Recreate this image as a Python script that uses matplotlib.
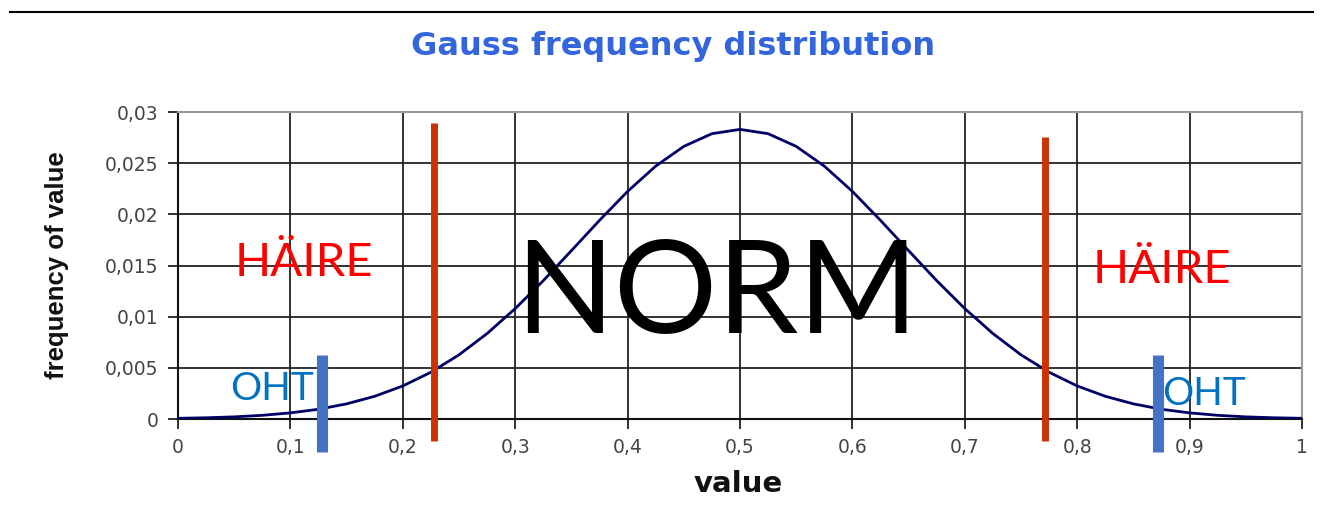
import matplotlib.pyplot as plt
from matplotlib.lines import Line2D

# curve
x_vals = [0.0, 0.025, 0.05, 0.075, 0.1, 0.125, 0.15, 0.175, 0.2, 0.225, 0.25,
          0.275, 0.3, 0.325, 0.35, 0.375, 0.4, 0.425, 0.45, 0.475, 0.5,
          0.525, 0.55, 0.575, 0.6, 0.625, 0.65, 0.675, 0.7, 0.725, 0.75,
          0.775, 0.8, 0.825, 0.85, 0.875, 0.9, 0.925, 0.95, 0.975, 1.0]
half = [0.00007, 0.00012, 0.00021, 0.00036, 0.0006, 0.00095, 0.00148, 0.00222,
        0.00323, 0.00457, 0.00627, 0.00835, 0.01079, 0.01352, 0.01645, 0.01941,
        0.02224, 0.02471, 0.02664, 0.02788]
y_vals = half + [0.0283] + half[::-1]

x_ticks = [0, 0.1, 0.2, 0.3, 0.4, 0.5, 0.6, 0.7, 0.8, 0.9, 1.0]
x_labels = ['0', '0,1', '0,2', '0,3', '0,4', '0,5', '0,6', '0,7', '0,8', '0,9', '1']
y_ticks = [0, 0.005, 0.01, 0.015, 0.02, 0.025, 0.03]
y_labels = ['0', '0,005', '0,01', '0,015', '0,02', '0,025', '0,03']

# limit markers: (x, ymin, ymax)
red_lines = [(0.228, -0.0021, 0.0289), (0.771, -0.0021, 0.0276)]
blue_lines = [(0.128, -0.0032, 0.0063), (0.872, -0.0032, 0.0063)]

fig = plt.figure(figsize=(13.27, 5.14), dpi=100)
ax = fig.add_axes([0.1341, 0.1848, 0.8471, 0.5973])

ax.set_xlim(0, 1)
ax.set_ylim(0, 0.03)
ax.set_xticks(x_ticks)
ax.set_xticklabels(x_labels)
ax.set_yticks(y_ticks)
ax.set_yticklabels(y_labels)
ax.grid(True, color='#222222', linewidth=1.3)
ax.set_axisbelow(True)
ax.tick_params(colors='#222222', labelcolor='#444444', labelsize=13.5,
               length=7, width=1.3, pad=7)
for lbl in ax.get_xticklabels() + ax.get_yticklabels():
    lbl.set_family('DejaVu Sans')
for s in ['top', 'right']:
    ax.spines[s].set_color('#999999')
    ax.spines[s].set_linewidth(1.5)
for s in ['left', 'bottom']:
    ax.spines[s].set_color('#111111')
    ax.spines[s].set_linewidth(1.5)

ax.plot(x_vals, y_vals, color='#000066', linewidth=2, zorder=3)

for xv, y0, y1 in red_lines:
    ax.plot([xv, xv], [y0, y1], color='#CC3300', linewidth=5, clip_on=False,
            solid_capstyle='butt', zorder=4)
for xv, y0, y1 in blue_lines:
    ax.plot([xv, xv], [y0, y1], color='#4472C4', linewidth=8, clip_on=False,
            solid_capstyle='butt', zorder=4)

ax.text(0.112, 0.01397, 'HÄIRE', color='#FF0000', fontsize=34, family='Lato',
        ha='center', va='baseline', zorder=5)
ax.text(0.875, 0.0133, 'HÄIRE', color='#FF0000', fontsize=34, family='Lato',
        ha='center', va='baseline', zorder=5)
ax.text(0.4795, 0.0084, 'NORM', color='black', fontsize=93, family='Lato',
        ha='center', va='baseline', zorder=5)
ax.text(0.0838, 0.00186, 'OHT', color='#0070C0', fontsize=28, family='Lato',
        ha='center', va='baseline', zorder=5)
ax.text(0.913, 0.00137, 'OHT', color='#0070C0', fontsize=28, family='Lato',
        ha='center', va='baseline', zorder=5)

fig.text(0.507, 0.9086, 'Gauss frequency distribution', color='#3366DD',
         fontsize=23, fontweight='bold', family='DejaVu Sans',
         ha='center', va='center')
ax.set_xlabel('value', fontsize=21, fontweight='bold', family='DejaVu Sans',
              color='#111111', va='center')
ax.xaxis.set_label_coords(0.498, -0.212)
ax.set_ylabel('frequency of value', fontsize=18.5, fontweight='bold',
              family='Liberation Sans', color='#111111', va='center')
ax.yaxis.set_label_coords(-0.1076, 0.5)

fig.add_artist(Line2D([10 / 1327, 1313 / 1327], [1 - 12 / 514, 1 - 12 / 514],
                      color='black', linewidth=1.5))

fig.savefig('out.png', dpi=100)
